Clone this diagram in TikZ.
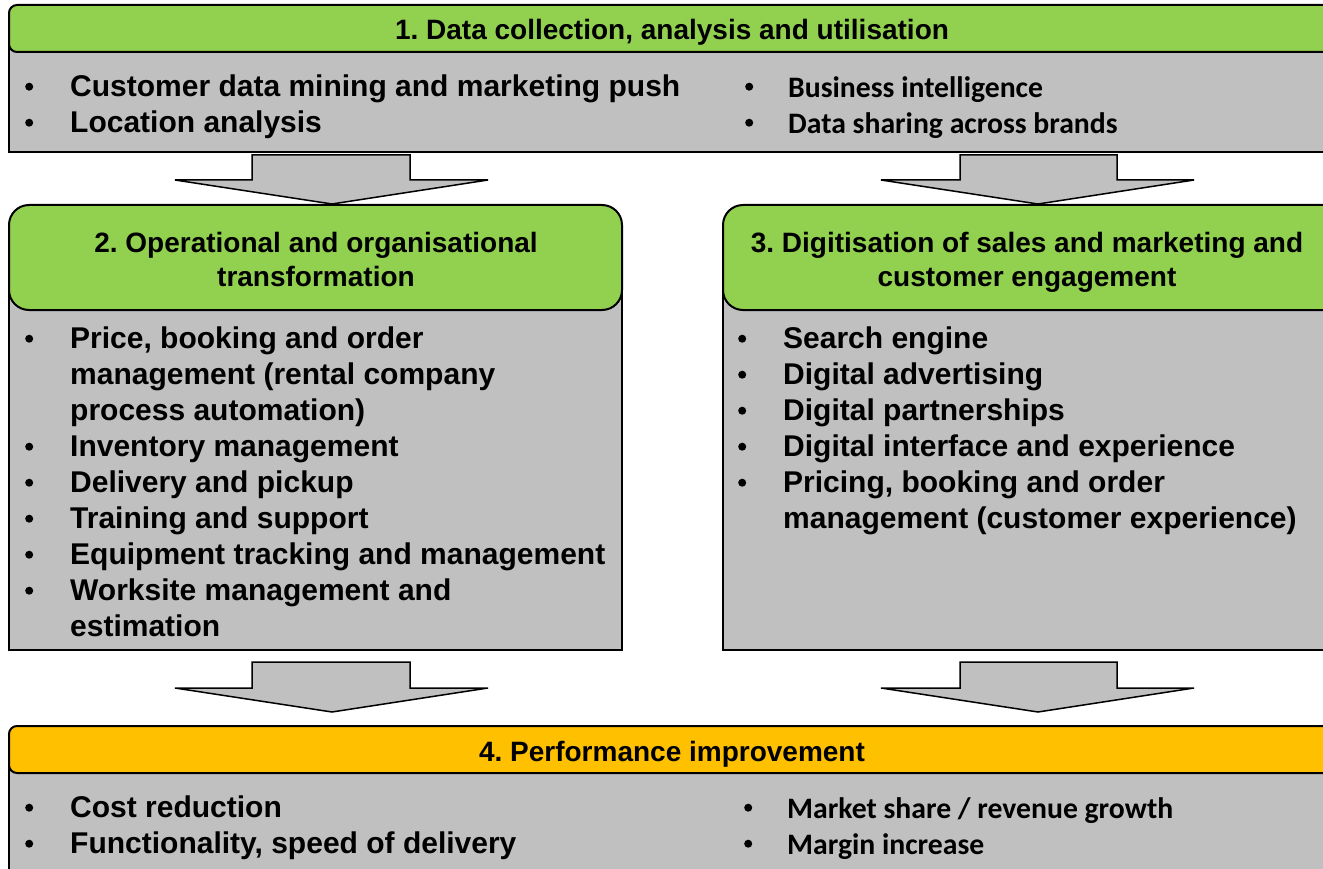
\documentclass[tikz,border=0pt]{standalone}
\usepackage{fontspec}
\setmainfont{Liberation Sans}
\newfontfamily\calfont{Carlito}
\frenchspacing
\definecolor{hgreen}{HTML}{92D050}
\definecolor{bgray}{HTML}{C0C0C0}
\definecolor{horange}{HTML}{FFC000}
\newcommand\dotb[1]{\tikz[baseline=0pt]\fill (4pt,#1) circle (4pt);}
\newcommand\bul[1]{\makebox[45pt][l]{\dotb{9.5pt}}#1}
\newcommand\cbul[1]{\makebox[43pt][l]{\dotb{10.5pt}}#1}
\newcommand\cont[1]{\hspace*{45pt}#1}
\newcommand\fst{\rule{0pt}{24pt}}
\tikzset{
  bodybox/.style={fill=bgray, draw=black, line width=2pt},
  headbox/.style={fill=hgreen, draw=black, line width=2pt},
  perfbox/.style={fill=horange, draw=black, line width=2pt},
  blockarrow/.style={fill=bgray, draw=black, line width=1.5pt, line join=miter},
  htext/.style={font=\bfseries\fontsize{28}{34}\selectfont, align=center, inner sep=0},
  ltext/.style={font=\bfseries\fontsize{30}{36}\selectfont, align=left, inner sep=0, anchor=north west},
  ctext/.style={font=\calfont\bfseries\fontsize{29.7}{36}\selectfont, align=left, inner sep=0, anchor=north west},
}
\begin{document}
\begin{tikzpicture}[x=1pt, y=-1pt]
\useasboundingbox (0,0) rectangle (1323,869);
\clip (0,0) rectangle (1323,869);
% Box 1
\draw[bodybox] (9,30) rectangle (1345,152);
\draw[headbox, rounded corners=8pt] (9,5) rectangle (1345,52);
\node[htext, anchor=base] (h1) at (672,40) {1. Data collection, analysis and utilisation};
\node[ltext] (b1l) at (25,72) {\fst\bul{Customer data mining and marketing push}\\\bul{Location analysis}};
\node[ctext] (b1r) at (745,73) {\fst\cbul{Business intelligence}\\\cbul{Data sharing across brands}};
% Arrows from box 1
\coordinate (t1) at (332,204);
\coordinate (t2) at (1038,204);
\draw[blockarrow] (252,155) -- (410,155) -- (410,180) -- (488,180) -- (t1) -- (175,180) -- (252,180) -- cycle;
\draw[blockarrow] (960,155) -- (1117,155) -- (1117,180) -- (1194,180) -- (t2) -- (881,180) -- (960,180) -- cycle;
% Box 2
\draw[bodybox] (9,258) rectangle (622,650);
\draw[headbox, rounded corners=20pt] (9,205) rectangle (622,310);
\node[htext, anchor=north] (h2) at (316,228) {\fst 2. Operational and organisational\\transformation};
\node[ltext] (b2) at (25,324) {\fst\bul{Price, booking and order}\\
\cont{management (rental company}\\
\cont{process automation)}\\
\bul{Inventory management}\\
\bul{Delivery and pickup}\\
\bul{Training and support}\\
\bul{Equipment tracking and management}\\
\bul{Worksite management and}\\
\cont{estimation}};
% Box 3
\draw[bodybox] (723,258) rectangle (1345,650);
\draw[headbox, rounded corners=20pt] (723,205) rectangle (1345,310);
\node[htext, anchor=north] (h3) at (1027,228) {\fst 3. Digitisation of sales and marketing and\\customer engagement};
\node[ltext] (b3) at (738,324) {\fst\bul{Search engine}\\
\bul{Digital advertising}\\
\bul{Digital partnerships}\\
\bul{Digital interface and experience}\\
\bul{Pricing, booking and order}\\
\cont{management (customer experience)}};
% Arrows to box 4
\coordinate (t3) at (332,712);
\coordinate (t4) at (1038,712);
\draw[blockarrow] (252,662) -- (410,662) -- (410,688) -- (488,688) -- (t3) -- (175,688) -- (252,688) -- cycle;
\draw[blockarrow] (960,662) -- (1117,662) -- (1117,688) -- (1194,688) -- (t4) -- (881,688) -- (960,688) -- cycle;
% Box 4
\draw[bodybox] (9,750) rectangle (1345,900);
\draw[perfbox, rounded corners=8pt] (9,726) rectangle (1345,773);
\node[htext, anchor=base] (h4) at (672,761) {4. Performance improvement};
\node[ltext] (b4l) at (25,793) {\fst\bul{Cost reduction}\\\bul{Functionality, speed of delivery}};
\node[ctext] (b4r) at (744,794) {\fst\cbul{Market share / revenue growth}\\\cbul{Margin increase}};
\end{tikzpicture}
\end{document}
